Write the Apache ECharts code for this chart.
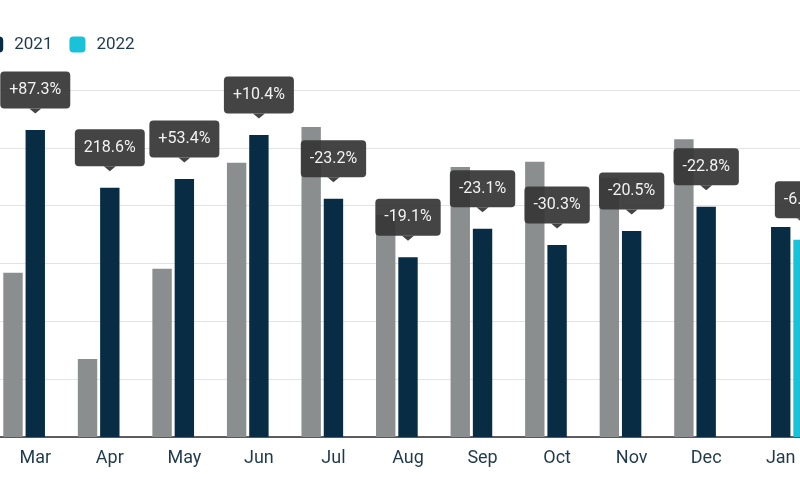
<!DOCTYPE html>
<html>
<head>
<meta charset="utf-8">
<script src="https://cdn.jsdelivr.net/npm/echarts@6/dist/echarts.min.js"></script>
<style>
html,body{margin:0;padding:0;background:#fff;overflow:hidden;width:800px;height:479px;}
#chart{position:absolute;left:-2px;top:0;width:820px;height:479px;}
</style>
</head>
<body>
<div id="chart"></div>
<script>
// Data (arbitrary units; the value axis is cropped out of the reference view)
const categories = ['Mar','Apr','May','Jun','Jul','Aug','Sep','Oct','Nov','Dec','Jan'];
const values2020 = [28.4, 13.5, 29.1, 47.4, 53.6, 38.4, 46.7, 47.6, 44.8, 51.5, null];
const values2021 = [53.1, 43.1, 44.6, 52.2, 41.2, 31.1, 36.0, 33.2, 35.6, 39.8, 36.3];
const values2022 = [null, null, null, null, null, null, null, null, null, null, 34.1];
const changeLabels = ['+87.3%','218.6%','+53.4%','+10.4%','-23.2%','-19.1%','-23.1%','-30.3%','-20.5%','-22.8%','-6.1%'];
const labelOnSeries = ['2021','2021','2021','2021','2021','2021','2021','2021','2021','2021','2022'];

const C2020 = '#8b8e8e', C2021 = '#072c44', C2022 = '#19c1d9';
const FONT = 'Roboto';
const LABEL_SIZE = 16;

const measureCtx = document.createElement('canvas').getContext('2d');
measureCtx.font = LABEL_SIZE + 'px ' + FONT;

const calloutData = categories.map((c, i) => {
  const is22 = labelOnSeries[i] === '2022';
  return [i, is22 ? values2022[i] : values2021[i], is22 ? 1 : 0, changeLabels[i]];
});

const chart = echarts.init(document.getElementById('chart'), null, {renderer: 'canvas'});
chart.setOption({
  animation: false,
  textStyle: {fontFamily: FONT},
  legend: {
    data: ['2020', '2021', '2022'],
    left: -98,
    top: 31,
    icon: 'roundRect',
    itemWidth: 16,
    itemHeight: 16,
    itemGap: 17,
    textStyle: {fontSize: 17, color: '#1f3a4d', fontFamily: FONT, padding: [0, 0, 0, 6]}
  },
  grid: {left: 0, right: 0, top: 90, bottom: 42, containLabel: false},
  xAxis: {
    type: 'category',
    data: categories,
    axisLine: {lineStyle: {color: '#2b2b2b', width: 1.5}},
    axisTick: {show: false},
    axisLabel: {fontSize: 18, color: '#1f3a4d', margin: 12, fontFamily: FONT}
  },
  yAxis: {
    type: 'value',
    min: 0, max: 60, interval: 10,
    axisLabel: {show: false},
    axisLine: {show: false},
    axisTick: {show: false},
    splitLine: {lineStyle: {color: '#e3e3e3', width: 1.2}}
  },
  series: [
    {name: '2020', type: 'bar', data: values2020, barWidth: '26%', barGap: '15%', itemStyle: {color: C2020}},
    {name: '2021', type: 'bar', data: values2021, barWidth: '26%', barGap: '15%', itemStyle: {color: C2021}},
    {name: '2022', type: 'bar', data: values2022, barWidth: '26%', barGap: '15%', itemStyle: {color: C2022}},
    {
      type: 'custom',
      z: 10,
      silent: true,
      encode: {x: 0, y: 1},
      data: calloutData,
      renderItem: function (params, api) {
        const pt = api.coord([api.value(0), api.value(1)]);
        const catW = api.size([1, 0])[0];
        const bw = catW * 0.26;
        const x = pt[0] + api.value(2) * bw * 1.15;
        const tipY = pt[1] - 16.5;
        const baseY = tipY - 5;
        const boxH = 37;
        const txt = calloutData[params.dataIndex][3];
        const boxW = measureCtx.measureText(txt).width + 18;
        const fill = 'rgba(54,54,54,0.93)';
        return {
          type: 'group',
          children: [
            {
              type: 'rect',
              shape: {x: x - boxW / 2, y: baseY - boxH, width: boxW, height: boxH, r: 4},
              style: {fill: fill}
            },
            {
              type: 'polygon',
              shape: {points: [[x - 6, baseY], [x + 6, baseY], [x, tipY]]},
              style: {fill: fill}
            },
            {
              type: 'text',
              x: x,
              y: baseY - boxH / 2,
              style: {
                text: txt,
                fill: '#f2f2f2',
                fontSize: LABEL_SIZE,
                fontFamily: FONT,
                align: 'center',
                verticalAlign: 'middle'
              }
            }
          ]
        };
      }
    }
  ]
});
</script>
</body>
</html>
